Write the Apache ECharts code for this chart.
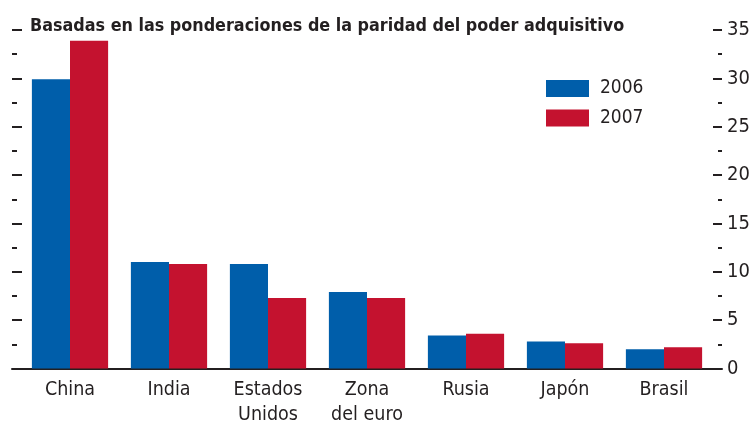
<!DOCTYPE html>
<html>
<head>
<meta charset="utf-8">
<script src="https://cdn.jsdelivr.net/npm/echarts@6/dist/echarts.min.js"></script>
<style>
html,body{margin:0;padding:0;background:#fff;}
#chart{width:755px;height:423px;}
</style>
</head>
<body>
<div id="chart"></div>
<script>
const titleText = 'Basadas en las ponderaciones de la paridad del poder adquisitivo';
const categories = ['China', 'India', 'Estados\nUnidos', 'Zona\ndel euro', 'Rusia', 'Japón', 'Brasil'];
const seriesNames = ['2006', '2007'];
const values2006 = [29.9, 11.0, 10.8, 7.9, 3.4, 2.8, 2.0];
const values2007 = [33.9, 10.8, 7.3, 7.3, 3.6, 2.6, 2.2];
const yMin = 0, yMax = 35, yInterval = 5;

const FONT = '"Liberation Sans Narrow", "DejaVu Sans Condensed", "Liberation Sans", sans-serif';
const INK = '#231f20';
const BLUE = '#005eaa';
const RED = '#c4122f';

const chart = echarts.init(document.getElementById('chart'), null, {renderer: 'canvas'});
const gridTop = 30, gridBottom = 54.5;

chart.setOption({
  animation: false,
  backgroundColor: '#fff',
  textStyle: {fontFamily: FONT},
  title: {
    text: titleText,
    left: 30, top: 17, padding: 0,
    textStyle: {fontFamily: FONT, fontSize: 17.8, fontWeight: 'bold', color: INK}
  },
  legend: {
    orient: 'vertical',
    left: 546, top: 79, padding: 0,
    itemWidth: 43, itemHeight: 17, itemGap: 10.5,
    icon: 'rect',
    data: seriesNames,
    textStyle: {fontFamily: FONT, fontSize: 19, color: INK, padding: [0, 0, 0, 6]}
  },
  grid: [
    {left: 12, right: 33, top: gridTop, bottom: gridBottom, outerBoundsMode: 'none', containLabel: false},
    {left: 20.5, right: 41.5, top: gridTop, bottom: gridBottom, outerBoundsMode: 'none', containLabel: false}
  ],
  xAxis: [
    {type: 'value', gridIndex: 0, min: 0, max: 1,
     axisLine: {show: true, lineStyle: {color: INK, width: 2}},
     axisTick: {show: false}, axisLabel: {show: false}, splitLine: {show: false}},
    {type: 'category', gridIndex: 1, data: categories,
     axisLine: {show: false}, axisTick: {show: false},
     axisLabel: {fontFamily: FONT, fontSize: 19.5, color: INK, lineHeight: 25, margin: 9, interval: 0}}
  ],
  yAxis: [
    {type: 'value', gridIndex: 0, position: 'left', min: yMin, max: yMax, interval: yInterval,
     axisLine: {show: false},
     axisTick: {show: true, inside: true, length: 10, lineStyle: {color: INK, width: 2}},
     minorTick: {show: true, splitNumber: 2, length: 5, lineStyle: {color: INK, width: 2}},
     axisLabel: {show: false}, splitLine: {show: false}},
    {type: 'value', gridIndex: 0, position: 'right', min: yMin, max: yMax, interval: yInterval,
     axisLine: {show: false},
     axisTick: {show: true, inside: true, length: 9, lineStyle: {color: INK, width: 2}},
     minorTick: {show: true, splitNumber: 2, length: 4, lineStyle: {color: INK, width: 2}},
     axisLabel: {show: true, margin: 5, fontFamily: FONT, fontSize: 20, color: INK},
     splitLine: {show: false}},
    {type: 'value', gridIndex: 1, min: yMin, max: yMax, interval: yInterval, show: false}
  ],
  series: [
    {name: seriesNames[0], type: 'bar', xAxisIndex: 1, yAxisIndex: 2, data: values2006,
     itemStyle: {color: BLUE}, barGap: '0%', barCategoryGap: '23%'},
    {name: seriesNames[1], type: 'bar', xAxisIndex: 1, yAxisIndex: 2, data: values2007,
     itemStyle: {color: RED}, barGap: '0%', barCategoryGap: '23%'}
  ]
});
</script>
</body>
</html>
